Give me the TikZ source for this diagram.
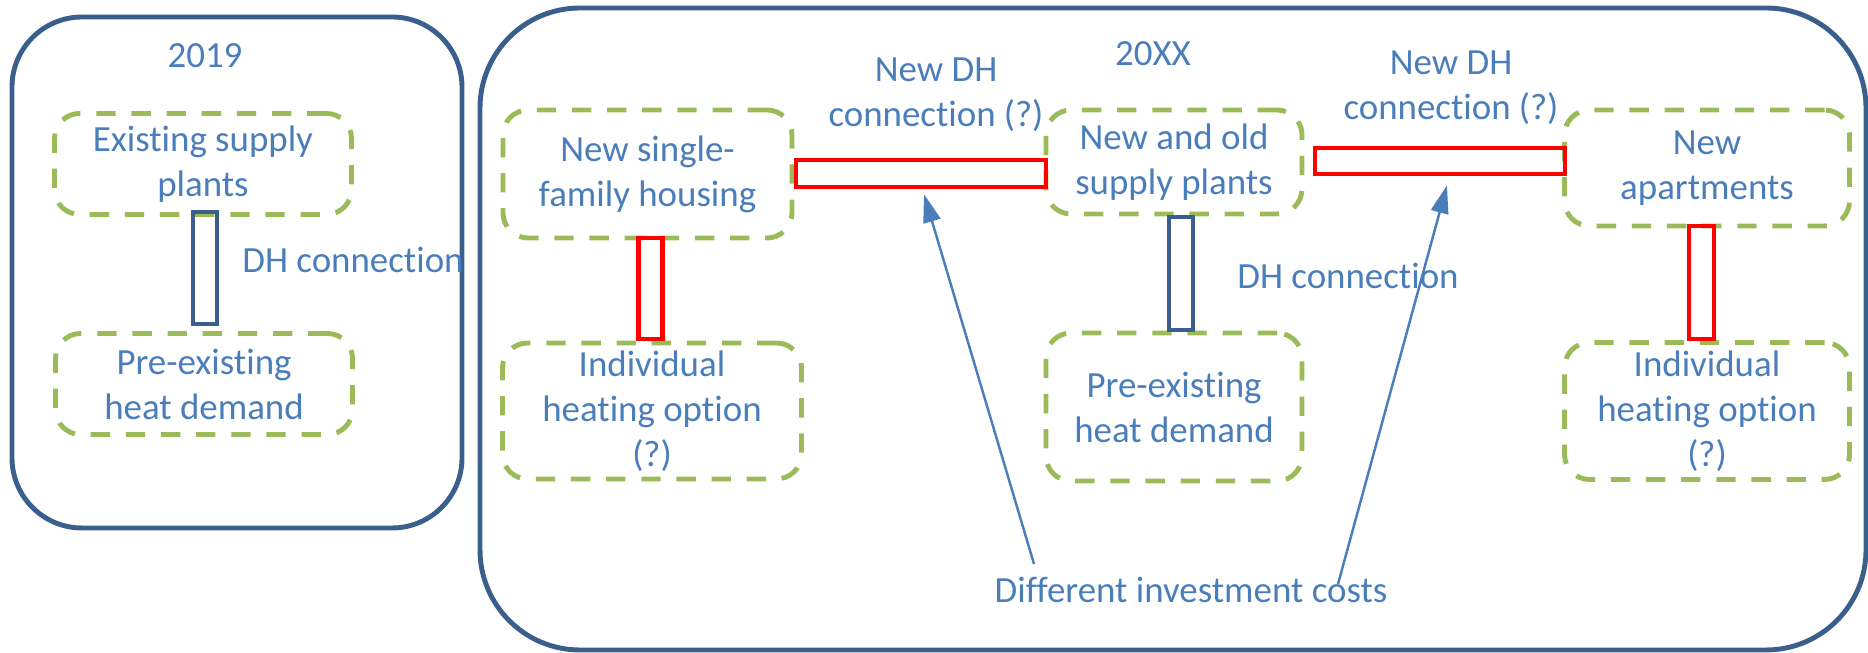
\documentclass[tikz,border=0pt]{standalone}
\usepackage{fontspec}
\setmainfont[Ligatures=NoCommon]{Carlito}
\usetikzlibrary{arrows.meta}

\definecolor{txtblue}{HTML}{4A7EBB}
\definecolor{frameblue}{HTML}{3B5F8D}
\definecolor{boxgreen}{HTML}{9BBB59}

\tikzset{
	period/.style={draw=frameblue,line width=1.4pt,rounded corners=0.7cm},
	group/.style={draw=boxgreen,line width=1.4pt,dash pattern=on 5.5pt off 4.5pt,rounded corners=0.25cm,align=center,inner sep=0pt},
	newpipe/.style={draw=red,line width=1.3pt,inner sep=0pt},
	oldpipe/.style={draw=frameblue,line width=1.3pt,inner sep=0pt},
	pointer/.style={draw=txtblue,line width=0.7pt,-{Triangle[length=8pt,width=5pt]}},
}

\begin{document}
\begin{tikzpicture}[every node/.style={text=txtblue,font=\fontsize{10.5}{12.8}\selectfont}]
\useasboundingbox (0,0) rectangle (18.68,6.53);
\draw[period] (0.12,1.25) rectangle (4.62,6.36);
\draw[period,rounded corners=1cm] (4.80,0.03) rectangle (18.66,6.45);
\node (y19) at (2.05,5.97) {2019};
\node (yxx) at (11.53,5.99) {20XX};
% 2019
\node[group,minimum width=2.97cm,minimum height=1.01cm] (exist) at (2.03,4.89) {Existing supply\\plants};
\node[group,minimum width=2.97cm,minimum height=1.01cm] (demold) at (2.04,2.69) {Pre-existing\\heat demand};
\node[oldpipe,minimum width=0.24cm,minimum height=1.12cm] (dh19) at (2.05,3.85) {};
\node[anchor=west] (dh19txt) at (2.30,3.93) {DH connection};
% 20XX
\node[group,minimum width=2.89cm,minimum height=1.28cm] (single) at (6.475,4.79) {New single-\\family housing};
\node[group,minimum width=2.99cm,minimum height=1.36cm] (indiv1) at (6.52,2.42) {Individual\\heating option\\(?)};
\node[group,minimum width=2.56cm,minimum height=1.04cm] (plants) at (11.74,4.91) {New and old\\supply plants};
\node[group,minimum width=2.56cm,minimum height=1.48cm] (demand) at (11.74,2.46) {Pre-existing\\heat demand};
\node[group,minimum width=2.85cm,minimum height=1.16cm] (apart) at (17.07,4.85) {New\\apartments};
\node[group,minimum width=2.85cm,minimum height=1.37cm] (indiv2) at (17.07,2.42) {Individual\\heating option\\(?)};
\node[newpipe,minimum width=2.50cm,minimum height=0.27cm] (nb1) at (9.21,4.795) {};
\node[newpipe,minimum width=2.50cm,minimum height=0.26cm] (nb2) at (14.40,4.92) {};
\node[newpipe,minimum width=0.24cm,minimum height=1.01cm] (ind1) at (6.505,3.645) {};
\node[newpipe,minimum width=0.25cm,minimum height=1.13cm] (ind2) at (17.015,3.705) {};
\node[oldpipe,minimum width=0.24cm,minimum height=1.13cm] (dhxx) at (11.81,3.795) {};
\node[align=center] (nb1txt) at (9.36,5.58) {New DH\\connection (?)};
\node[align=center] (nb2txt) at (14.51,5.65) {New DH\\connection (?)};
\node[anchor=west] (dhxxtxt) at (12.25,3.77) {DH connection};
\node (cost) at (11.91,0.63) {Different investment costs};
\coordinate (c1) at (10.34,0.89);
\coordinate (c2) at (13.38,0.69);
\draw[pointer] (c1) -- ([xshift=0.03cm,yshift=-0.05cm]nb1.south);
\draw[pointer] (c2) -- ([xshift=0.07cm,yshift=-0.09cm]nb2.south);
\end{tikzpicture}
\end{document}
